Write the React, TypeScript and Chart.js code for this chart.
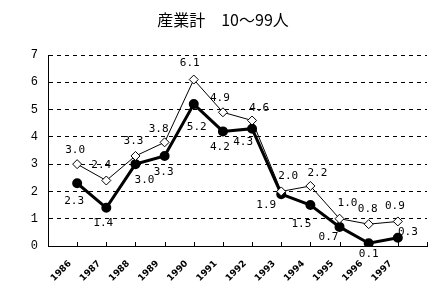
import React, { useEffect, useRef } from "react";
import { Chart, registerables } from "chart.js";

Chart.register(...registerables);

const TITLE = "産業計　10～99人";
const YEARS = [1986, 1987, 1988, 1989, 1990, 1991, 1992, 1993, 1994, 1995, 1996, 1997];
const SERIES_A = [3.0, 2.4, 3.3, 3.8, 6.1, 4.9, 4.6, 2.0, 2.2, 1.0, 0.8, 0.9];
const SERIES_B = [2.3, 1.4, 3.0, 3.3, 5.2, 4.2, 4.3, 1.9, 1.5, 0.7, 0.1, 0.3];
const Y_TICKS = [0, 1, 2, 3, 4, 5, 6, 7];

// label offsets (dx, dy) relative to each point
const OFFSETS_A = [[-2, -14], [-5, -15], [-2, -15], [-6, -13], [-4, -16], [-3, -14], [7, -12], [7, -15], [7, -13], [8, -16], [-1, -15], [-3, -15]];
const OFFSETS_B = [[-3, 18], [-3, 15], [9, 16], [-1, 16], [3, 23], [-3, 16], [-9, 13], [-15, 11], [-9, 19], [-11, 10], [0, 11], [10, -6]];

const labelPlugin = {
  id: "valueLabels",
  afterDatasetsDraw(chart: any) {
    const ctx = chart.ctx;
    ctx.save();
    ctx.font = '11px "DejaVu Sans Mono"';
    ctx.fillStyle = "#000";
    ctx.textAlign = "center";
    ctx.textBaseline = "middle";
    const offs = [OFFSETS_A, OFFSETS_B];
    chart.data.datasets.forEach((ds: any, di: number) => {
      const meta = chart.getDatasetMeta(di);
      meta.data.forEach((pt: any, i: number) => {
        const v = ds.data[i].y;
        const [dx, dy] = offs[di][i];
        ctx.fillText(v.toFixed(1), pt.x + dx, pt.y + dy);
      });
    });
    ctx.restore();
  },
};

const decorPlugin = {
  id: "decor",
  afterDraw(chart: any) {
    const ctx = chart.ctx;
    const { bottom } = chart.chartArea;
    const xs = chart.scales.x;
    ctx.save();
    ctx.strokeStyle = "#000";
    ctx.lineWidth = 1;
    ctx.beginPath();
    for (let v = xs.min; v <= xs.max; v++) {
      const px = Math.round(xs.getPixelForValue(v)) + 0.5;
      ctx.moveTo(px, bottom - 4);
      ctx.lineTo(px, bottom);
    }
    ctx.stroke();
    // x labels, rotated
    ctx.font = 'bold 9px "DejaVu Sans"';
    ctx.fillStyle = "#000";
    ctx.textAlign = "center";
    ctx.textBaseline = "middle";
    YEARS.forEach((yr) => {
      const px = xs.getPixelForValue(yr);
      ctx.save();
      ctx.translate(px - 16, bottom + 25);
      ctx.rotate(-Math.PI / 4);
      ctx.fillText(String(yr), 0, 0);
      ctx.restore();
    });
    // title
    ctx.font = '16px "Noto Sans CJK JP"';
    ctx.textAlign = "center";
    ctx.fillText(TITLE, 223, 20);
    ctx.restore();
  },
};

export default function App() {
  const ref = useRef<HTMLCanvasElement>(null);
  useEffect(() => {
    if (!ref.current) return;
    const chart = new Chart(ref.current, {
      type: "line",
      data: {
        datasets: [
          {
            label: "A",
            data: YEARS.map((y, i) => ({ x: y, y: SERIES_A[i] })),
            borderColor: "#000",
            borderWidth: 1,
            pointStyle: "rectRot",
            pointRadius: 4.5,
            pointBackgroundColor: "#fff",
            pointBorderColor: "#000",
            pointBorderWidth: 1,
            tension: 0,
          },
          {
            label: "B",
            data: YEARS.map((y, i) => ({ x: y, y: SERIES_B[i] })),
            borderColor: "#000",
            borderWidth: 3,
            pointStyle: "circle",
            pointRadius: 3.5,
            pointBackgroundColor: "#000",
            pointBorderColor: "#000",
            tension: 0,
          },
        ],
      },
      options: {
        animation: false,
        responsive: false,
        devicePixelRatio: 1,
        layout: { padding: { top: 55, left: 0, right: 15, bottom: 0 } },
        plugins: { legend: { display: false }, title: { display: false }, tooltip: { enabled: false } },
        scales: {
          x: {
            type: "linear",
            min: 1985,
            max: 1998,
            afterFit: (s: any) => { s.height = 58; },
            ticks: { display: false, stepSize: 1 },
            grid: { display: false },
            border: { display: true, color: "#000", width: 1 },
          },
          y: {
            min: 0,
            max: 7,
            afterFit: (s: any) => { s.width = 48; },
            afterBuildTicks: (s: any) => { s.ticks = Y_TICKS.map((v) => ({ value: v })); },
            ticks: {
              stepSize: 1,
              padding: 10,
              color: "#000",
              font: { family: "Liberation Mono", size: 12 },
            },
            grid: {
              color: (c: any) => (c.tick && c.tick.value === 0 ? "rgba(0,0,0,0)" : "#000"),
              lineWidth: 1,
              drawTicks: false,
            },
            border: { display: true, color: "#000", width: 1, dash: [4, 4] },
          },
        },
      },
      plugins: [labelPlugin, decorPlugin],
    } as any);
    return () => chart.destroy();
  }, []);
  return (
    <div style={{ position: "fixed", left: 0, top: 0, width: 442, height: 304, background: "#fff" }}>
      <canvas ref={ref} width={442} height={304} style={{ width: 442, height: 304 }} />
    </div>
  );
}
